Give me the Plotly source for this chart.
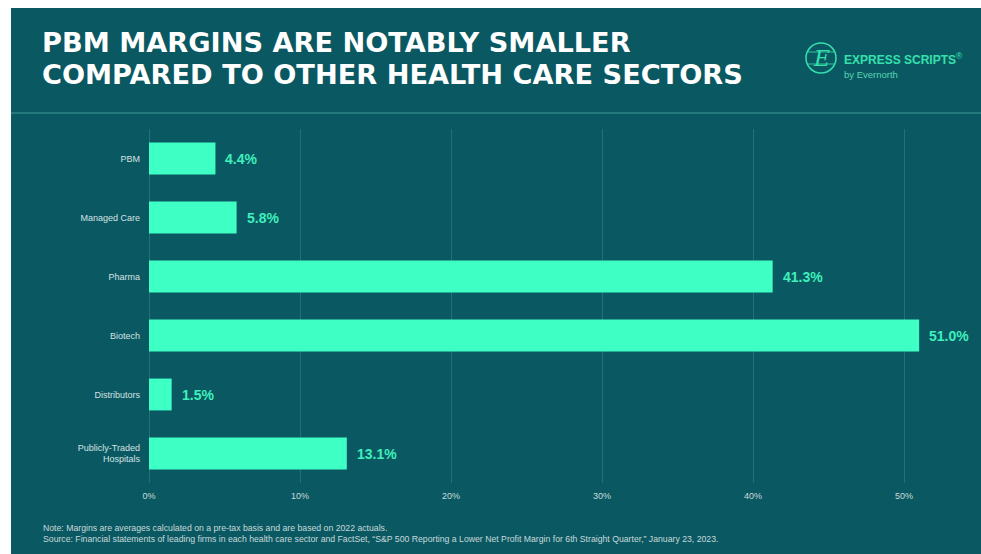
import plotly.graph_objects as go

# ---- data ----
categories = ["PBM", "Managed Care", "Pharma", "Biotech", "Distributors",
              "Publicly-Traded<br>Hospitals"]
margins = [4.4, 5.8, 41.3, 51.0, 1.5, 13.1]
x_ticks = [0, 10, 20, 30, 40, 50]
x_tick_labels = ["0%", "10%", "20%", "30%", "40%", "50%"]

title_lines = ["PBM MARGINS ARE NOTABLY SMALLER",
               "COMPARED TO OTHER HEALTH CARE SECTORS"]
note_lines = [
    "Note: Margins are averages calculated on a pre-tax basis and are based on 2022 actuals.",
    "Source: Financial statements of leading firms in each health care sector and FactSet, "
    "\u201cS&P 500 Reporting a Lower Net Profit Margin for 6th Straight Quarter,\u201d January 23, 2023.",
]

# ---- layout geometry ----
W, H = 981, 554
ML, MT, MB = 149, 129, 71
XMAX = 54.5
PLOT_W = 823
MR = W - ML - PLOT_W
PLOT_H = H - MT - MB

BG = "#0a5962"
BAR = "#3effc4"
LABEL = "#3fefbc"


def px(x):
    return (x - ML) / PLOT_W


def py(y):
    return 1 - (y - MT) / PLOT_H


fig = go.Figure()
fig.add_trace(go.Bar(
    x=margins, y=categories, orientation="h",
    marker=dict(color=BAR, line=dict(width=0)),
    hoverinfo="skip",
))

annotations = []
for c, v in zip(categories, margins):
    annotations.append(dict(
        x=v, y=c, xref="x", yref="y", text=f"{v:.1f}%", showarrow=False,
        xanchor="left", xshift=8,
        font=dict(family="Liberation Sans, Arial", size=14, color=LABEL, weight="bold"),
    ))

# title lines
for i, (line, yc) in enumerate(zip(title_lines, [42, 74])):
    annotations.append(dict(
        x=px(40), y=py(yc), xref="paper", yref="paper", text=f"<b>{line}</b>",
        showarrow=False, xanchor="left", yanchor="middle",
        font=dict(family="DejaVu Sans", size=27.2, color="#ffffff"),
    ))

# logo text
annotations.append(dict(
    x=px(842), y=py(59), xref="paper", yref="paper",
    text="<b>EXPRESS SCRIPTS</b><sup>\u00ae</sup>", showarrow=False,
    xanchor="left", yanchor="middle",
    font=dict(family="Liberation Sans, Arial", size=12, color="#36e0ad"),
))
annotations.append(dict(
    x=px(842), y=py(74), xref="paper", yref="paper",
    text="by Evernorth", showarrow=False, xanchor="left", yanchor="middle",
    font=dict(family="Liberation Sans, Arial", size=9.5, color="#58d3b2"),
))
annotations.append(dict(
    x=px(821), y=py(58), xref="paper", yref="paper",
    text="<i>E</i>", showarrow=False, xanchor="center", yanchor="middle",
    font=dict(family="DejaVu Serif", size=22, color="#36e0ad"),
))

# footer
for line, yc in zip(note_lines, [528, 539]):
    annotations.append(dict(
        x=px(41), y=py(yc), xref="paper", yref="paper", text=line,
        showarrow=False, xanchor="left", yanchor="middle",
        font=dict(family="Liberation Sans, Arial", size=8.7, color="#c8d8da"),
    ))

shapes = [
    # teal panel
    dict(type="rect", xref="paper", yref="paper", x0=px(11), x1=px(W + 5),
         y0=py(H + 5), y1=py(8), fillcolor=BG, line=dict(width=0), layer="below"),
    # separator line
    dict(type="line", xref="paper", yref="paper", x0=px(11), x1=px(W),
         y0=py(113), y1=py(113), line=dict(color="#2f8487", width=1.5)),
    # logo circle
    dict(type="circle", xref="paper", yref="paper", x0=px(806), x1=px(836),
         y0=py(73), y1=py(43), line=dict(color="#36e0ad", width=1.5)),
    dict(type="line", xref="paper", yref="paper", x0=px(808), x1=px(834),
         y0=py(52), y1=py(52), line=dict(color="#36e0ad", width=0.8)),
    dict(type="line", xref="paper", yref="paper", x0=px(808), x1=px(834),
         y0=py(64), y1=py(64), line=dict(color="#36e0ad", width=0.8)),
]

fig.update_layout(
    width=W, height=H,
    margin=dict(l=ML, r=MR, t=MT, b=MB),
    paper_bgcolor="#ffffff", plot_bgcolor="rgba(0,0,0,0)",
    showlegend=False, bargap=0.46,
    annotations=annotations, shapes=shapes,
    xaxis=dict(
        range=[0, XMAX], tickvals=x_ticks, ticktext=x_tick_labels,
        showgrid=True, gridcolor="#21707a", gridwidth=1,
        zeroline=True, zerolinecolor="#21707a", zerolinewidth=1,
        showline=False, ticks="", ticklabelstandoff=6,
        tickfont=dict(family="Liberation Sans, Arial", size=9, color="#c8dcdc"),
        fixedrange=True,
    ),
    yaxis=dict(
        categoryorder="array", categoryarray=categories, autorange="reversed",
        showgrid=False, zeroline=False, showline=False, ticks="",
        ticklabelstandoff=8,
        tickfont=dict(family="Liberation Sans, Arial", size=9, color="#d5e2e2"),
        fixedrange=True,
    ),
)

fig.write_html("out.html")
